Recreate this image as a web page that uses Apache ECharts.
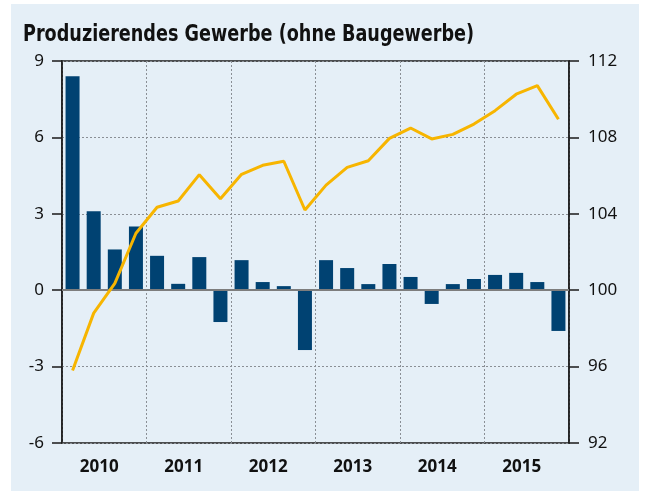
<!DOCTYPE html>
<html>
<head>
<meta charset="utf-8">
<script src="https://cdn.jsdelivr.net/npm/echarts@6/dist/echarts.min.js"></script>
<style>
html,body{margin:0;padding:0;background:#fff;width:646px;height:491px;overflow:hidden;}
#chart{position:absolute;left:11px;top:4px;width:628px;height:487px;background:#e5eff7;}
</style>
</head>
<body>
<div id="chart"></div>
<script>
const years = ['2010','2011','2012','2013','2014','2015'];
const quarters = [];
years.forEach(y => { for (let q = 1; q <= 4; q++) quarters.push(y + ' Q' + q); });
const changeValues = [8.4, 3.1, 1.6, 2.5, 1.35, 0.25, 1.3, -1.25, 1.18, 0.32, 0.16, -2.35,
                      1.18, 0.87, 0.24, 1.03, 0.52, -0.54, 0.24, 0.44, 0.6, 0.68, 0.32, -1.6];
const indexValues = [95.8, 98.8, 100.36, 102.98, 104.34, 104.67, 106.05, 104.79, 106.07, 106.54, 106.75, 104.2,
                     105.5, 106.43, 106.78, 107.95, 108.49, 107.92, 108.16, 108.7, 109.4, 110.26, 110.71, 108.95];
const leftTicks = {min: -6, max: 9, interval: 3};
const rightTicks = {min: 92, max: 112, interval: 4};
const titleText = 'Produzierendes Gewerbe (ohne Baugewerbe)';

const chart = echarts.init(document.getElementById('chart'));
const dotted = {show: true, lineStyle: {color: '#8a8f95', type: [2, 2], width: 1}};
chart.setOption({
  animation: false,
  graphic: [{
    type: 'text', x: 12, y: 20, scaleX: 0.852,
    style: {text: titleText, fill: '#111', textVerticalAlign: 'top',
            font: 'bold 23px "DejaVu Sans Condensed", "Open Sans", sans-serif'}
  }],
  grid: {left: 51, right: 70, top: 57, bottom: 48, show: true, borderColor: '#1a1a1a', borderWidth: 1.5, backgroundColor: 'transparent'},
  xAxis: [
    {type: 'category', data: quarters, show: false, boundaryGap: true},
    {type: 'category', data: years, position: 'bottom', boundaryGap: true,
     axisLine: {show: false}, axisTick: {show: false},
     splitLine: dotted,
     axisLabel: {margin: 16, fontFamily: 'Noto Sans', fontWeight: 'bold', fontSize: 17, color: '#111', padding: [0, 10, 0, 0]}}
  ],
  yAxis: [
    {type: 'value', min: leftTicks.min, max: leftTicks.max, interval: leftTicks.interval, position: 'left',
     axisLine: {show: true, lineStyle: {color: '#1a1a1a', width: 1.5}},
     axisTick: {show: true, length: 10, lineStyle: {color: '#1a1a1a', width: 1.5}},
     axisLabel: {margin: 18, fontFamily: 'Noto Sans', fontSize: 17, color: '#111'},
     splitLine: dotted},
    {type: 'value', min: rightTicks.min, max: rightTicks.max, interval: rightTicks.interval, position: 'right',
     axisLine: {show: true, lineStyle: {color: '#1a1a1a', width: 1.5}},
     axisTick: {show: true, length: 10, lineStyle: {color: '#1a1a1a', width: 1.5}},
     axisLabel: {margin: 19, fontFamily: 'Noto Sans', fontSize: 17, color: '#111'},
     splitLine: {show: false}}
  ],
  series: [
    {type: 'bar', xAxisIndex: 0, yAxisIndex: 0, data: changeValues, barWidth: 14,
     itemStyle: {color: '#004272'},
     markLine: {silent: true, symbol: 'none', label: {show: false},
       lineStyle: {color: '#7d7d7d', type: 'solid', width: 2},
       data: [{yAxis: 0}]}},
    {type: 'line', xAxisIndex: 0, yAxisIndex: 1, data: indexValues, showSymbol: false,
     lineStyle: {color: '#f7b500', width: 3}, z: 5}
  ]
});
</script>
</body>
</html>
